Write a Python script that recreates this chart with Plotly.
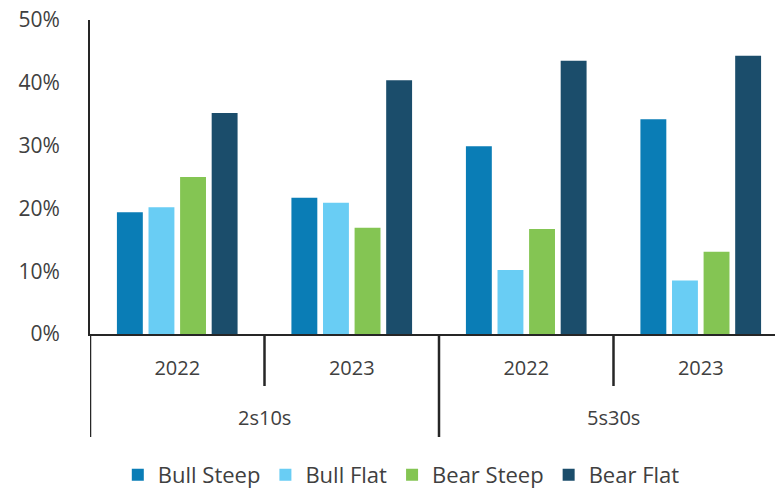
import plotly.graph_objects as go

# ---- data ----
curves = ["2s10s", "2s10s", "5s30s", "5s30s"]
years = ["2022", "2023", "2022", "2023"]
series_names = ["Bull Steep", "Bull Flat", "Bear Steep", "Bear Flat"]
bull_steep = [0.194, 0.217, 0.299, 0.342]
bull_flat = [0.202, 0.209, 0.102, 0.085]
bear_steep = [0.250, 0.169, 0.167, 0.131]
bear_flat = [0.352, 0.404, 0.435, 0.443]
colors = ["#0A7DB6", "#69CDF4", "#84C553", "#1B4D6B"]

x_keys = [c + " " + y for c, y in zip(curves, years)]
values = [bull_steep, bull_flat, bear_steep, bear_flat]

FONT = "Open Sans"
TXT = "#404040"

fig = go.Figure()
for name, vals, col in zip(series_names, values, colors):
    fig.add_trace(go.Bar(x=x_keys, y=vals, name=name, marker_color=col,
                         marker_line_width=0))

W, H = 775, 490
ml, mr, mt, mb = 90, 0, 20, 156
ph = H - mt - mb

fig.update_layout(
    width=W, height=H,
    margin=dict(l=ml, r=mr, t=mt, b=mb),
    paper_bgcolor="white", plot_bgcolor="white",
    barmode="group", bargap=0.276, bargroupgap=0.18,
    font=dict(family=FONT, color=TXT, size=20, weight=500),
    showlegend=True,
    legend=dict(orientation="h", xref="container", x=0.152, xanchor="left",
                yref="container", y=(H - 475) / H, yanchor="middle",
                font=dict(family=FONT, size=22, color=TXT, weight=500),
                traceorder="normal", itemwidth=30, bgcolor="rgba(0,0,0,0)"),
)

fig.update_xaxes(type="category", categoryorder="array", categoryarray=x_keys,
                 tickvals=x_keys, ticktext=years, range=[-0.5, -0.5 + (W - ml) / 174.5],
                 showline=True, linecolor="#262626", linewidth=2,
                 ticks="", showgrid=False, zeroline=False,
                 tickfont=dict(family=FONT, size=20, color=TXT, weight=500),
                 ticklabelstandoff=15)
fig.update_yaxes(range=[0, 0.5], dtick=0.1, tickformat=".0%",
                 showline=True, linecolor="#262626", linewidth=2,
                 showgrid=False, zeroline=False, ticks="",
                 tickfont=dict(family=FONT, size=21, color=TXT, weight=500),
                 ticklabelstandoff=24)

# group dividers below the axis
long_y = -(437 - (mt + ph)) / ph
short_y = -(386 - (mt + ph)) / ph
for xv, yend in [(-0.5, long_y), (0.5, short_y), (1.5, long_y), (2.5, short_y)]:
    fig.add_shape(type="line", xref="x", yref="paper", x0=xv, x1=xv, y0=0, y1=yend,
                  line=dict(color="#262626", width=2.5))

# group labels
for xv, lab in [(0.5, curves[0]), (2.5, curves[2])]:
    fig.add_annotation(x=xv, xref="x", y=-(417 - (mt + ph)) / ph, yref="paper",
                       text=lab, showarrow=False, yanchor="middle",
                       font=dict(family=FONT, size=20, color=TXT, weight=500))

fig.write_html("out.html")
